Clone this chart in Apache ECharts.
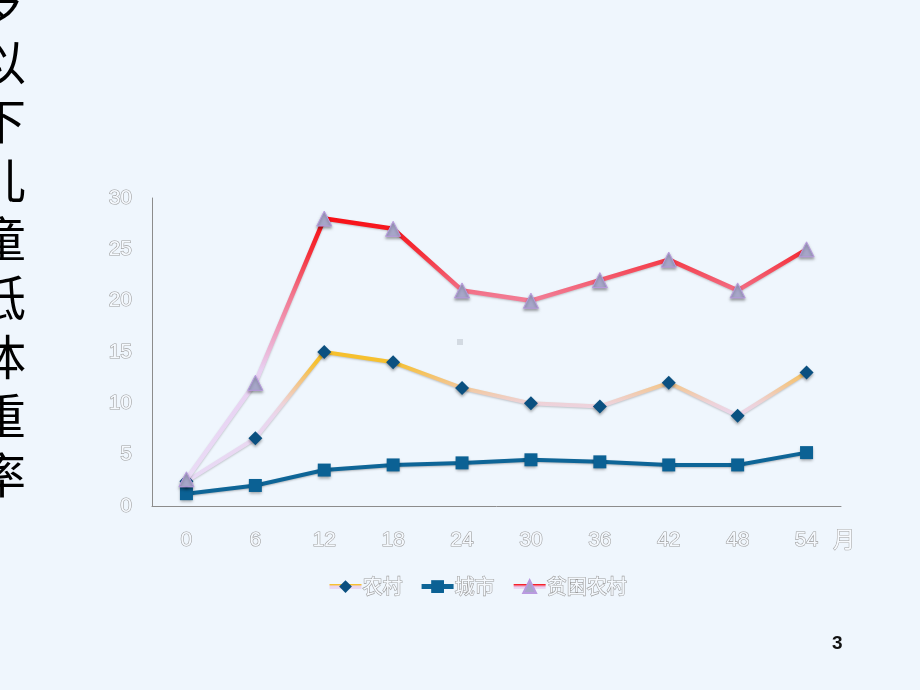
<!DOCTYPE html>
<html>
<head>
<meta charset="utf-8">
<script src="https://cdn.jsdelivr.net/npm/echarts@6/dist/echarts.min.js"></script>
<style>
html,body{margin:0;padding:0;background:#EFF6FD;}
#c{width:920px;height:690px;}
</style>
</head>
<body>
<div id="c"></div>
<script>
const months = ['0','6','12','18','24','30','36','42','48','54'];
const seriesNames = ['农村','城市','贫困农村'];
const rural = [2.4, 6.6, 15, 14, 11.5, 10, 9.7, 12, 8.8, 13];
const urban = [1.2, 2.0, 3.5, 4.0, 4.2, 4.5, 4.3, 4.0, 4.0, 5.2];
const poorRural = [2.6, 12, 28, 27, 21, 20, 22, 24, 21, 25];
const titleChars = ['岁','以','下','儿','童','低','体','重','率'];
const yTicks = {min:0, max:30, interval:5};
const unitLabel = '月';
const pageNo = '3';

const hollow = {
  color: '#F5F9FE',
  textBorderColor: '#9C9C9C',
  textBorderWidth: 1.15,
  fontFamily: 'Liberation Sans, Arial, Noto Sans CJK SC, sans-serif',
  fontSize: 21
};

const chart = echarts.init(document.getElementById('c'));
chart.setOption({
  backgroundColor: '#EFF6FD',
  animation: false,
  grid: {left:152, right:79, top:198, bottom:184},
  legend: {
    left: 322, top: 571,
    itemWidth: 32, itemHeight: 16, itemGap: 16,
    lineStyle: {width: 5},
    textStyle: Object.assign({}, hollow, {fontSize: 20, fontFamily: 'Noto Sans CJK SC, sans-serif', padding:[0,0,0,-4]}),
    data: seriesNames
  },
  xAxis: {
    type: 'category',
    data: months,
    boundaryGap: true,
    axisLine: {lineStyle: {color: '#8C8C8C', width: 1}},
    axisTick: {show: false},
    axisLabel: Object.assign({}, hollow, {margin: 24})
  },
  yAxis: {
    type: 'value',
    min: yTicks.min, max: yTicks.max, interval: yTicks.interval,
    splitLine: {show: false},
    axisLine: {show: true, lineStyle: {color: '#8C8C8C', width: 1}},
    axisTick: {show: false},
    axisLabel: Object.assign({}, hollow, {margin: 20})
  },
  series: [
    {
      name: seriesNames[0], type: 'line', data: rural,
      symbol: 'diamond', symbolSize: 14,
      itemStyle: {color: '#0B5080', shadowColor:'rgba(0,0,0,0.35)', shadowBlur:3, shadowOffsetY:2},
      lineStyle: {
        width: 4,
        color: {type:'linear', x:0, y:0, x2:0, y2:1, colorStops:[
          {offset:0, color:'#F6BF2A'},
          {offset:0.1, color:'#F6C132'},
          {offset:0.22, color:'#F4C47A'},
          {offset:0.32, color:'#F1CBAE'},
          {offset:0.4, color:'#EED2D8'},
          {offset:0.5, color:'#EAD6EE'},
          {offset:1, color:'#E8DAF6'}
        ]},
        shadowColor:'rgba(0,0,0,0.2)', shadowBlur:2, shadowOffsetY:1
      },
      z: 3
    },
    {
      name: seriesNames[1], type: 'line', data: urban,
      symbol: 'rect', symbolSize: 13,
      itemStyle: {color: '#0B6194', shadowColor:'rgba(0,0,0,0.35)', shadowBlur:3, shadowOffsetY:2},
      lineStyle: {width: 4, color: '#0E6597', shadowColor:'rgba(0,0,0,0.25)', shadowBlur:2, shadowOffsetY:1},
      z: 2
    },
    {
      name: seriesNames[2], type: 'line', data: poorRural,
      symbol: 'triangle', symbolSize: 15,
      itemStyle: {color: '#A7A6C9', borderColor:'#B99AE0', borderWidth:1, shadowColor:'rgba(0,0,0,0.35)', shadowBlur:3, shadowOffsetY:2},
      lineStyle: {
        width: 4.5,
        color: {type:'linear', x:0, y:0, x2:0, y2:1, colorStops:[
          {offset:0, color:'#F80E14'},
          {offset:0.14, color:'#F5303A'},
          {offset:0.3, color:'#F27890'},
          {offset:0.44, color:'#EFA0C0'},
          {offset:0.58, color:'#E8D0F2'},
          {offset:1, color:'#EADCF6'}
        ]},
        shadowColor:'rgba(0,0,0,0.2)', shadowBlur:2, shadowOffsetY:1
      },
      z: 4
    }
  ],
  graphic: [
    {
      type: 'text', x: 833, y: 528,
      style: {text: unitLabel, fill: '#F7FAFE', stroke: '#A0A0A0', lineWidth: 1, font: '22px "Noto Sans CJK SC", sans-serif'}
    },
    {
      type: 'text', x: 2, y: -27,
      style: {
        text: titleChars.join('\n'),
        font: '48px "Noto Sans CJK SC", sans-serif',
        fill: '#000000',
        align: 'center',
        verticalAlign: 'top',
        lineHeight: 59,
        shadowColor: 'rgba(150,80,20,0.85)',
        shadowBlur: 2,
        shadowOffsetX: 1,
        shadowOffsetY: 1
      }
    },
    {
      type: 'text', x: 832, y: 634,
      style: {text: pageNo, font: 'bold 19px "Liberation Sans", Arial, sans-serif', fill: '#111111'}
    },
    {
      type: 'rect', shape: {x: 457, y: 339, width: 6, height: 6},
      style: {fill: '#D3DAE2'}
    }
  ]
});
</script>
</body>
</html>
